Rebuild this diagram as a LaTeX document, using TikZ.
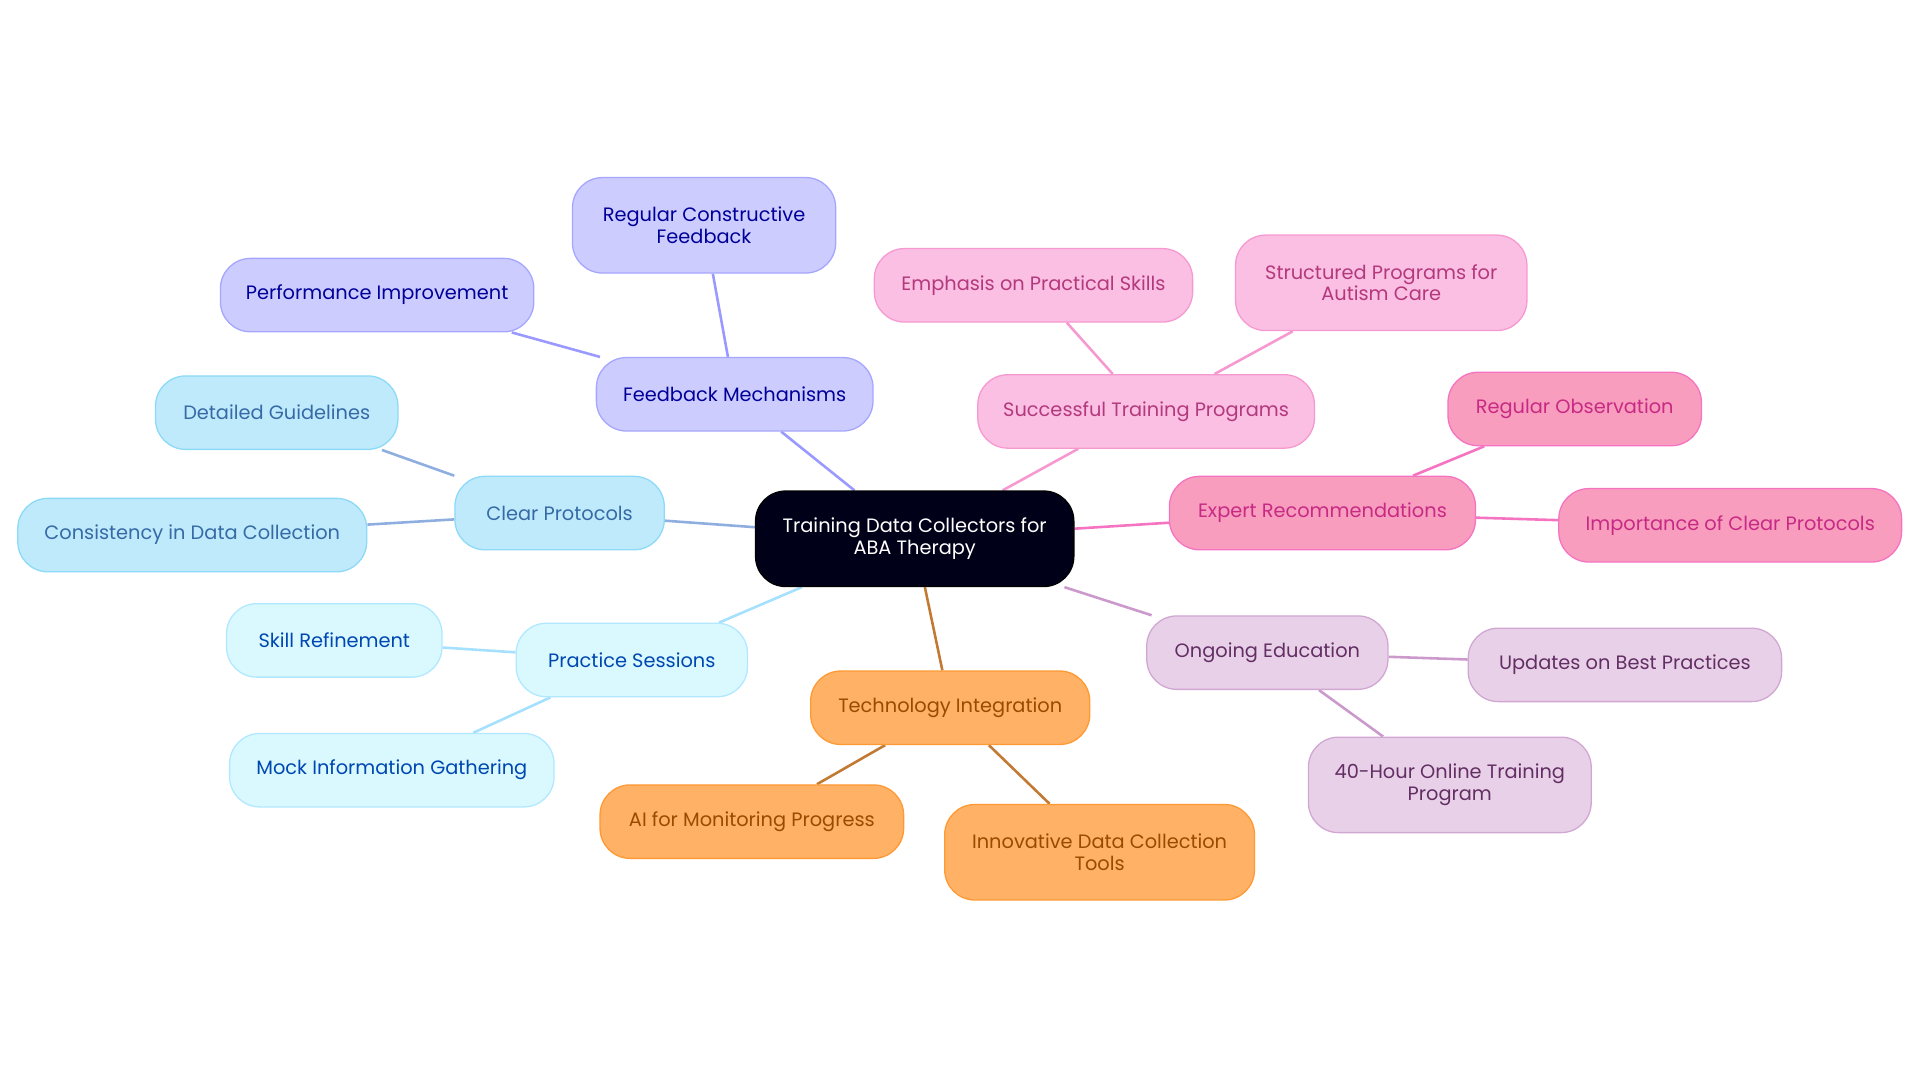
\documentclass[tikz,border=0pt]{standalone}
\usepackage{fontspec}
\setmainfont{Poppins}
\usetikzlibrary{backgrounds}
\tikzset{
  box/.style={rounded corners=14pt, minimum height=1.2cm, align=center, font=\fontsize{9}{10}\selectfont, line width=0.6pt},
  tall/.style={minimum height=1.56cm},
  root/.style={box, fill=black!90!blue, draw=black, text=white, minimum height=1.56cm},
  feed/.style={box, fill=blue!20!white, draw=blue!35!white, text=blue!60!black},
  clear/.style={box, fill=cyan!25!white, draw=cyan!45!white, text=cyan!50!blue!80!black},
  prac/.style={box, fill=blue!15!cyan!15!white, draw=blue!30!cyan!30!white, text=blue!60!cyan!70!black},
  tech/.style={box, fill=orange!60!white, draw=orange!80!white, text=orange!60!black},
  succ/.style={box, fill=magenta!25!white, draw=magenta!40!white, text=magenta!70!black},
  expert/.style={box, fill=magenta!40!pink!70!white, draw=magenta!55!white, text=magenta!80!black},
  ongo/.style={box, fill=violet!18!white, draw=violet!35!white, text=violet!70!white!60!black},
}
\begin{document}
\begin{tikzpicture}[x=0.02cm,y=-0.02cm]
\useasboundingbox (0,0) rectangle (1568,884);
\node[root, minimum width=5.2cm] (ctr) at (747,440) {Training Data Collectors for\\ABA Therapy};

\node[feed, minimum width=4.52cm] (fb) at (600,322) {Feedback Mechanisms};
\node[feed, tall, minimum width=4.3cm] (fb1) at (575,184) {Regular Constructive\\Feedback};
\node[feed, minimum width=5.12cm] (fb2) at (308,241) {Performance Improvement};

\node[clear, minimum width=3.42cm] (cp) at (457,419) {Clear Protocols};
\node[clear, minimum width=3.96cm] (cp1) at (226,337) {Detailed Guidelines};
\node[clear, minimum width=5.7cm] (cp2) at (157,437) {Consistency in Data Collection};

\node[prac, minimum width=3.78cm] (ps) at (516,539) {Practice Sessions};
\node[prac, minimum width=3.52cm] (ps1) at (273,523) {Skill Refinement};
\node[prac, minimum width=5.3cm] (ps2) at (320,629) {Mock Information Gathering};

\node[tech, minimum width=4.56cm] (ti) at (776,578) {Technology Integration};
\node[tech, minimum width=4.96cm] (ti1) at (614,671) {AI for Monitoring Progress};
\node[tech, tall, minimum width=5.06cm] (ti2) at (898,696) {Innovative Data Collection\\Tools};

\node[succ, minimum width=5.5cm] (st) at (936,336) {Successful Training Programs};
\node[succ, minimum width=5.2cm] (st1) at (844,233) {Emphasis on Practical Skills};
\node[succ, tall, minimum width=4.76cm] (st2) at (1128,231) {Structured Programs for\\Autism Care};

\node[expert, minimum width=5cm] (er) at (1080,419) {Expert Recommendations};
\node[expert, minimum width=4.14cm] (er1) at (1286,334) {Regular Observation};
\node[expert, minimum width=5.6cm] (er2) at (1413,429) {Importance of Clear Protocols};

\node[ongo, minimum width=3.94cm] (oe) at (1035,533) {Ongoing Education};
\node[ongo, minimum width=5.12cm] (oe1) at (1327,543) {Updates on Best Practices};
\node[ongo, tall, minimum width=4.62cm] (oe2) at (1184,641) {40-Hour Online Training\\Program};

\begin{pgfonlayer}{background}
\draw[blue!40!white, line width=1.2pt] (ctr) -- (fb) (fb) -- (fb1) (fb) -- (fb2);
\draw[cyan!50!blue!45!white, line width=1.2pt] (ctr) -- (cp) (cp) -- (cp1) (cp) -- (cp2);
\draw[blue!35!cyan!35!white, line width=1.2pt] (ctr) -- (ps) (ps) -- (ps1) (ps) -- (ps2);
\draw[orange!70!black!80!white, line width=1.2pt] (ctr) -- (ti) (ti) -- (ti1) (ti) -- (ti2);
\draw[magenta!40!white, line width=1.2pt] (ctr) -- (st) (st) -- (st1) (st) -- (st2);
\draw[magenta!55!white, line width=1.2pt] (ctr) -- (er) (er) -- (er1) (er) -- (er2);
\draw[violet!40!white, line width=1.2pt] (ctr) -- (oe) (oe) -- (oe1) (oe) -- (oe2);
\end{pgfonlayer}
\end{tikzpicture}
\end{document}
